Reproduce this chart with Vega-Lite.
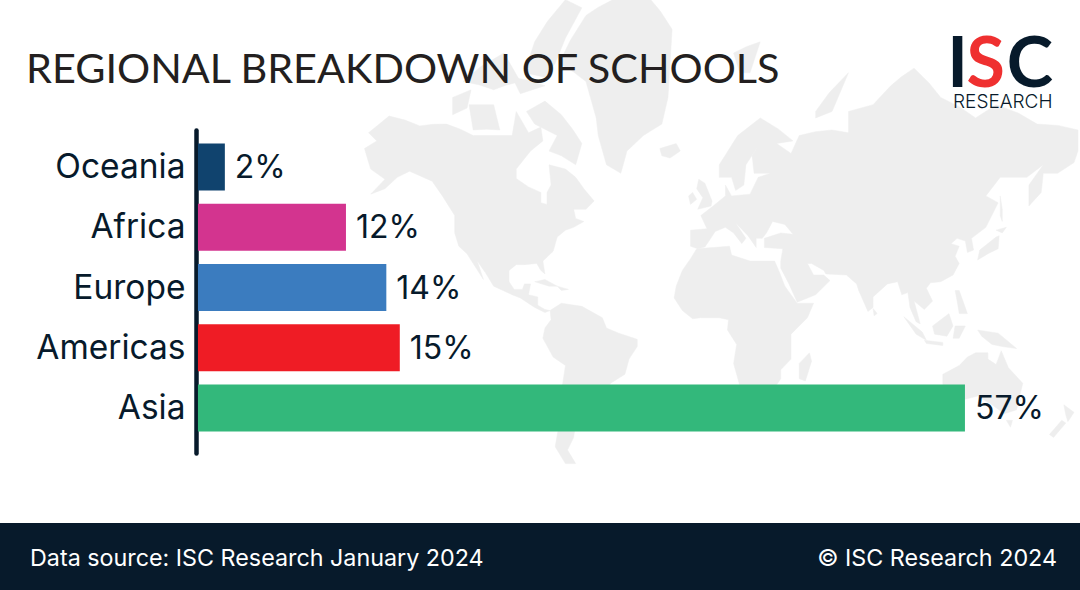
{
"$schema":"https://vega.github.io/schema/vega-lite/v6.json",
"padding":0,"spacing":0,"background":"#ffffff",
"config":{"view":{"stroke":null},"concat":{"spacing":0}},
"vconcat":[
{"width":1080,"height":523,
 "title":{"text":"REGIONAL BREAKDOWN OF SCHOOLS","anchor":"start","frame":"group","offset":-124,"dx":26,"fontSize":41.4,"font":"Lato","fontWeight":400,"color":"#231f20","baseline":"alphabetic"},
 "resolve":{"scale":{"x":"independent","y":"independent"}},
 "layer":[
 {"data":{"values":[
  {"type":"Feature","properties":{"name":"North America"},"geometry":{"type":"Polygon","coordinates":[[[-168,65.5],[-162,67],[-166,68.5],[-156,71.3],[-141,69.7],[-128,70],[-115,68],[-108,68],[-96,68],[-94,72],[-88,68.5],[-82,69.5],[-81,67],[-87,65],[-94,61],[-94,58.7],[-88,56.5],[-82,55],[-82,52],[-79,51.5],[-79,55],[-77,57],[-78,62],[-70,61],[-65,59],[-61,56],[-56,52.5],[-60,50],[-66,50],[-65,47],[-61,46],[-66,44],[-70,43],[-74,40.5],[-76,35],[-81,31],[-80,25.5],[-82,27],[-84,30],[-90,29.5],[-94,29.5],[-97.5,27],[-97.5,22],[-95,18.5],[-91,18.5],[-90,21],[-87,21],[-88,16],[-83.5,15],[-83.5,11],[-80,9],[-77.5,8.5],[-80,7.5],[-85,10],[-92,14.5],[-96,16],[-105,20],[-109,26],[-113,31],[-110,23],[-115,30],[-118,34],[-122,37],[-124,42],[-124,48],[-130,54],[-135,58],[-146,60.5],[-152,59],[-158,56],[-165,54.5],[-158,58.5],[-165,61],[-168,65.5]]]}},
  {"type":"Feature","properties":{"name":"Baffin"},"geometry":{"type":"Polygon","coordinates":[[[-80,73.5],[-72,71.5],[-62,66.5],[-65,62],[-72,64],[-78,65],[-74,68],[-85,70],[-89,72],[-80,73.5]]]}},
  {"type":"Feature","properties":{"name":"Victoria"},"geometry":{"type":"Polygon","coordinates":[[[-117,73],[-105,73],[-102,69],[-115,69],[-117,73]]]}},
  {"type":"Feature","properties":{"name":"Banks"},"geometry":{"type":"Polygon","coordinates":[[[-125,74],[-116,75],[-118,72.5],[-125,71.5],[-125,74]]]}},
  {"type":"Feature","properties":{"name":"Ellesmere"},"geometry":{"type":"Polygon","coordinates":[[[-90,77],[-85,80],[-70,83],[-62,82.5],[-75,78],[-80,76.5],[-90,77]]]}},
  {"type":"Feature","properties":{"name":"Queen Elizabeth"},"geometry":{"type":"Polygon","coordinates":[[[-120,76],[-100,79],[-92,76],[-105,75],[-120,76]]]}},
  {"type":"Feature","properties":{"name":"Devon"},"geometry":{"type":"Polygon","coordinates":[[[-96,76.5],[-80,75.5],[-92,74.5],[-96,76.5]]]}},
  {"type":"Feature","properties":{"name":"Greenland"},"geometry":{"type":"Polygon","coordinates":[[[-73,78],[-60,82],[-32,83.5],[-18,81],[-20,74],[-23,70],[-32,68],[-40,65],[-43,60],[-50,62],[-54,68],[-55,71],[-60,76],[-73,78]]]}},
  {"type":"Feature","properties":{"name":"Iceland"},"geometry":{"type":"Polygon","coordinates":[[[-24,65.5],[-16,66.5],[-14,65],[-19,63.5],[-23,64],[-24,65.5]]]}},
  {"type":"Feature","properties":{"name":"South America"},"geometry":{"type":"Polygon","coordinates":[[[-77.5,8.5],[-72,12],[-62,10.5],[-52,5],[-50,0],[-44,-2.5],[-35,-5.5],[-35,-9],[-39,-15],[-41,-22],[-48,-26],[-53,-33.5],[-58,-35],[-57,-38],[-62,-39],[-65,-42],[-66,-47],[-69,-51],[-65,-55],[-70,-55],[-75,-50],[-73,-42],[-72,-30],[-70,-18],[-76,-14],[-81,-5],[-80,0],[-77,4],[-77.5,8.5]]]}},
  {"type":"Feature","properties":{"name":"Africa"},"geometry":{"type":"Polygon","coordinates":[[[-6,36],[10,37],[11,33.5],[20,31],[32,31],[34,27],[37,20],[43,12],[51,12],[48,5],[40,-3],[40,-15],[35,-20],[35,-24],[32,-28],[26,-34],[18,-34.5],[15,-27],[12,-17],[13.5,-8],[9,-1],[9.5,4],[5,5],[-4,5],[-8,4.5],[-13,8.5],[-17,14.5],[-16,20],[-13,27],[-9,32],[-6,36]]]}},
  {"type":"Feature","properties":{"name":"Madagascar"},"geometry":{"type":"Polygon","coordinates":[[[49,-12],[50,-16],[47,-25],[44,-24],[44,-17],[49,-12]]]}},
  {"type":"Feature","properties":{"name":"Eurasia"},"geometry":{"type":"Polygon","coordinates":[[[-9,43],[-1,43.5],[-4,48],[2,51],[8,54],[8,57],[11,54],[20,54.5],[24,59],[30,60],[22,60],[21,64],[24,66],[18,62],[17,57],[13,55.5],[11,59],[5,59],[5,62],[14,68],[25,71],[41,67],[33,66.5],[40,64.5],[44,68],[60,69],[68,68.5],[68,72],[80,73],[100,77.5],[113,74],[130,71],[140,73],[160,70],[179.9,69],[179.9,65],[178,62.5],[170,60],[163,60],[162,55],[156,51],[156,57],[163,62],[155,59],[142,59],[135,54],[141,52],[135,44],[128,40],[129,35.5],[126,34.5],[125,39],[121,40],[118,38],[122,37],[120,33],[122,30],[119,25],[113,22],[108,21.5],[106,19],[109,13],[105,9],[100,13],[103,2],[101,3],[98,10],[97,17],[94,16],[92,22],[87,21],[80,15],[80,10],[77.5,8],[73,18],[72,21],[67,25],[57,25.5],[56,27],[50,30],[48,30],[51,25],[56,25],[59,22.5],[52,16],[43,12.5],[39,21],[35,28],[35,31],[36,36],[27,36.5],[27,40],[35,42],[41,41.5],[37,45],[31,46],[28,42],[26,40],[23,40],[23,36.5],[19,41],[13,45.5],[18,40],[16,38],[12,42],[8,44],[3,42.5],[0,39],[-2,36.7],[-5.5,36],[-9,37],[-9,43]]]}},
  {"type":"Feature","properties":{"name":"Great Britain"},"geometry":{"type":"Polygon","coordinates":[[[-5,58.5],[-2,57.5],[1.5,52.5],[1,51],[-5.5,50],[-3,53.5],[-6,56],[-5,58.5]]]}},
  {"type":"Feature","properties":{"name":"Ireland"},"geometry":{"type":"Polygon","coordinates":[[[-8,55],[-6,53],[-9,51.5],[-10,54],[-8,55]]]}},
  {"type":"Feature","properties":{"name":"Svalbard"},"geometry":{"type":"Polygon","coordinates":[[[12,79],[25,80],[20,77],[15,77],[12,79]]]}},
  {"type":"Feature","properties":{"name":"Novaya Zemlya"},"geometry":{"type":"Polygon","coordinates":[[[52,72],[68,77],[60,72],[52,71],[52,72]]]}},
  {"type":"Feature","properties":{"name":"Honshu"},"geometry":{"type":"Polygon","coordinates":[[[132,35.5],[140,40.5],[141.5,41],[141,36],[136,34],[131,31.5],[132,35.5]]]}},
  {"type":"Feature","properties":{"name":"Hokkaido"},"geometry":{"type":"Polygon","coordinates":[[[140,43],[145,44],[143,42],[140,43]]]}},
  {"type":"Feature","properties":{"name":"Sakhalin"},"geometry":{"type":"Polygon","coordinates":[[[142,54],[143,50],[143,46],[142,48],[142,54]]]}},
  {"type":"Feature","properties":{"name":"Philippines"},"geometry":{"type":"Polygon","coordinates":[[[120,18],[122,18],[126,7],[122,7],[121,13],[120,18]]]}},
  {"type":"Feature","properties":{"name":"Sumatra"},"geometry":{"type":"Polygon","coordinates":[[[95,5.5],[104,-2],[106,-6],[101,-3],[95,5.5]]]}},
  {"type":"Feature","properties":{"name":"Borneo"},"geometry":{"type":"Polygon","coordinates":[[[109,1],[117,7],[119,1],[116,-4],[110,-3],[109,1]]]}},
  {"type":"Feature","properties":{"name":"Java"},"geometry":{"type":"Polygon","coordinates":[[[105,-6],[114,-7],[114,-8.5],[106,-7.5],[105,-6]]]}},
  {"type":"Feature","properties":{"name":"Sulawesi"},"geometry":{"type":"Polygon","coordinates":[[[120,1],[125,1],[122,-5],[119,-5],[120,1]]]}},
  {"type":"Feature","properties":{"name":"New Guinea"},"geometry":{"type":"Polygon","coordinates":[[[131,-1],[141,-2.5],[150,-10],[143,-9],[138,-8],[133,-4],[131,-1]]]}},
  {"type":"Feature","properties":{"name":"Sri Lanka"},"geometry":{"type":"Polygon","coordinates":[[[80,9.5],[82,7],[80.5,6],[80,9.5]]]}},
  {"type":"Feature","properties":{"name":"Cuba"},"geometry":{"type":"Polygon","coordinates":[[[-85,22],[-80,23],[-74,20],[-78,20],[-85,22]]]}},
  {"type":"Feature","properties":{"name":"Hispaniola"},"geometry":{"type":"Polygon","coordinates":[[[-74,20],[-68.5,18.5],[-72,18],[-74,20]]]}},
  {"type":"Feature","properties":{"name":"Australia"},"geometry":{"type":"Polygon","coordinates":[[[114,-22],[122,-18],[126,-14],[130,-12],[136,-12],[136,-15],[140,-17.5],[142.5,-11],[146,-19],[153,-26],[150,-37],[144,-38.5],[138,-35],[131,-31.5],[124,-33],[115,-34.5],[114,-26],[114,-22]]]}},
  {"type":"Feature","properties":{"name":"Tasmania"},"geometry":{"type":"Polygon","coordinates":[[[145,-41],[148,-41],[147,-43.5],[145,-41]]]}},
  {"type":"Feature","properties":{"name":"NZ North"},"geometry":{"type":"Polygon","coordinates":[[[173,-35],[178,-38],[175,-41.5],[174,-39],[173,-35]]]}},
  {"type":"Feature","properties":{"name":"NZ South"},"geometry":{"type":"Polygon","coordinates":[[[172,-41],[174,-42],[168,-47],[166,-46],[172,-41]]]}}
  ]},
  "projection":{"type":"mercator","scale":117.5,"translate":[709,328]},
  "mark":{"type":"geoshape","fill":"#eeeeee","stroke":"#eeeeee","strokeWidth":0.5,"clip":true}},
 {"data":{"values":[
   {"region":"Oceania","share":2,"label":"2%"},
   {"region":"Africa","share":11,"label":"12%"},
   {"region":"Europe","share":14,"label":"14%"},
   {"region":"Americas","share":15,"label":"15%"},
   {"region":"Asia","share":57,"label":"57%"}]},
  "encoding":{
   "y":{"field":"region","type":"nominal","title":null,
    "scale":{"type":"band","domain":["Oceania","Africa","Europe","Americas","Asia"],"range":[130,453],"paddingInner":0.22,"paddingOuter":0.29,"align":0.386},
    "axis":{"offset":-196,"domainWidth":4.5,"domainColor":"#071a2b","domainCap":"round","ticks":false,"labelPadding":11,"labelFontSize":33.5,"labelFont":"Inter","labelColor":"#071a2b","labelOffset":1,"grid":false}},
   "x":{"field":"share","type":"quantitative","axis":null,"scale":{"domain":[-14.71,65.55],"nice":false,"zero":false}}},
  "layer":[
   {"mark":{"type":"bar"},"encoding":{"color":{"field":"region","type":"nominal","legend":null,"scale":{"domain":["Oceania","Africa","Europe","Americas","Asia"],"range":["#10436e","#d3348f","#3b7cbf","#ef1c25","#33b87b"]}}}},
   {"mark":{"type":"text","align":"left","baseline":"middle","dx":10,"dy":1,"fontSize":32,"font":"Inter","color":"#071a2b"},"encoding":{"text":{"field":"label"}}}
  ]},
 {"data":{"values":[
   {"text":"I","col":"left","row":"mark"},
   {"text":"S","col":"mid","row":"mark"},
   {"text":"C","col":"right","row":"mark"},
   {"text":"RESEARCH","col":"mid","row":"sub"}]},
  "encoding":{
   "x":{"field":"col","type":"nominal","axis":null,"scale":{"type":"point","domain":["left","mid","right"],"range":[957.5,1030],"padding":0}},
   "y":{"field":"row","type":"nominal","axis":null,"scale":{"type":"point","domain":["mark","sub"],"range":[87,108],"padding":0}},
   "text":{"field":"text"}},
  "layer":[
   {"transform":[{"filter":"datum.text==='I'||datum.text==='C'"}],"mark":{"type":"text","align":"center","baseline":"alphabetic","fontSize":70,"font":"Lato","fontWeight":700,"color":"#071a2b"}},
   {"transform":[{"filter":"datum.text==='S'"}],"mark":{"type":"text","align":"center","baseline":"alphabetic","dx":-8,"fontSize":70,"font":"Lato","fontWeight":700,"color":"#ef3030"}},
   {"transform":[{"filter":"datum.text==='RESEARCH'"}],"mark":{"type":"text","align":"center","baseline":"alphabetic","dx":9,"fontSize":19,"font":"Inter","fontWeight":300,"color":"#071a2b"}}
  ]}
 ]},
{"width":1080,"height":67,
 "view":{"fill":"#071a2b","stroke":null},
 "data":{"values":[{"text":"Data source: ISC Research January 2024","side":"left"},{"text":"© ISC Research 2024","side":"right"}]},
 "encoding":{"x":{"field":"side","type":"nominal","axis":null,"scale":{"type":"point","domain":["left","right"],"range":[30,1057],"padding":0}},"text":{"field":"text"}},
 "layer":[
  {"transform":[{"filter":"datum.side==='left'"}],"mark":{"type":"text","align":"left","baseline":"middle","dy":2,"fontSize":23.3,"font":"Inter","color":"#ffffff"}},
  {"transform":[{"filter":"datum.side==='right'"}],"mark":{"type":"text","align":"right","baseline":"middle","dy":2,"fontSize":23.3,"font":"Inter","color":"#ffffff"}}
 ]}
]}
